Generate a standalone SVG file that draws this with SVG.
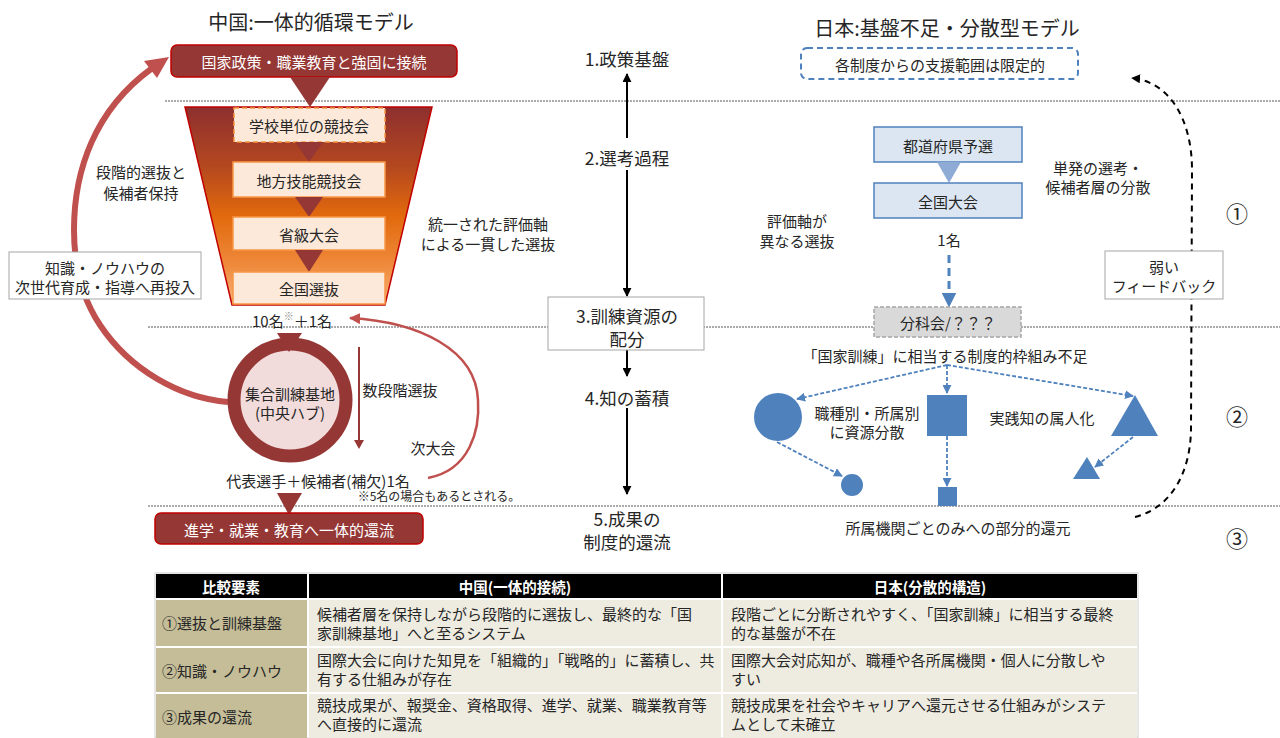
<svg xmlns="http://www.w3.org/2000/svg" width="1280" height="738" viewBox="0 0 1280 738">
<style>
text{font-family:'Noto Sans CJK JP','Noto Sans',sans-serif;fill:#262626;}
.t15{font-size:15px;}
.t14{font-size:14.5px;}
.tb{font-size:15px;}
.t12{font-size:12px;}
.t17{font-size:17.5px;}
.num{font-size:22px;}
.title{font-size:20px;}
.c{text-anchor:middle;dominant-baseline:central;}
.l{text-anchor:start;dominant-baseline:central;}
.w{fill:#ffffff;}
.dot{stroke:#595959;stroke-width:1.2;stroke-dasharray:2 1;fill:none;}
.redbox{fill:#953735;stroke:#c00000;stroke-width:1.5;}
.stage{fill:#fde9d9;stroke:#f79646;stroke-width:1.5;}
.dtri{fill:#953735;}
.blk{stroke:#000;stroke-width:2;fill:none;marker-end:url(#ahb);}
.bl{stroke:#4f81bd;stroke-width:1.8;stroke-dasharray:4 2;fill:none;marker-end:url(#ahu);}
.shape{fill:#4f81bd;}
.jbox{fill:#dce6f2;stroke:#4f81bd;stroke-width:1.5;}
.plain{fill:#fff;stroke:#a6a6a6;stroke-width:1;}
.c1{fill:#c4bd97;}
.c2{fill:#eeece1;}
</style>
<defs>
<linearGradient id="funnel" x1="0" y1="0" x2="0" y2="1">
<stop offset="0" stop-color="#8e2f2f"/>
<stop offset="0.3" stop-color="#b4481f"/>
<stop offset="0.55" stop-color="#e2690d"/>
<stop offset="0.8" stop-color="#ef8a3c"/>
<stop offset="1" stop-color="#f6b27a"/>
</linearGradient>
<marker id="ahb" viewBox="0 0 10 10" refX="9" refY="5" markerWidth="4.5" markerHeight="4.5" orient="auto"><path d="M0,0 L10,5 L0,10 z" fill="#000"/></marker>
<marker id="ahu" viewBox="0 0 10 10" refX="9" refY="5" markerWidth="5" markerHeight="5" orient="auto"><path d="M0,0 L10,5 L0,10 z" fill="#4f81bd"/></marker>
<marker id="ahr" viewBox="0 0 10 10" refX="9" refY="5" markerWidth="4.5" markerHeight="4.5" orient="auto"><path d="M0,0 L10,5 L0,10 z" fill="#c0504d"/></marker>
</defs>

<!-- dotted separators -->
<g id="separators">
<line class="dot" x1="165" y1="101" x2="1280" y2="101"/>
<line class="dot" x1="148" y1="327" x2="1280" y2="327"/>
<line class="dot" x1="148" y1="506" x2="1280" y2="506"/>
</g>

<!-- connectors -->
<g id="connectors">
<path d="M228,402 C180,398 130,370 100,325 C82,298 74,265 74,230 C74,170 95,110 151,69" fill="none" stroke="#c0504d" stroke-width="6"/>
<polygon points="169,57 157,78 144,61" fill="#c0504d"/>
<path d="M428,478 C470,470 480,430 478,400 C476,350 420,322 350,318" fill="none" stroke="#c0504d" stroke-width="2.5" marker-end="url(#ahr)"/>
<line x1="359" y1="347" x2="359" y2="443" stroke="#953735" stroke-width="2"/>
<polygon points="354,440 364,440 359,449" fill="#953735"/>
<line class="blk" x1="627" y1="138" x2="627" y2="74"/>
<line class="blk" x1="627" y1="170" x2="627" y2="296"/>
<line class="blk" x1="627" y1="350" x2="627" y2="376"/>
<line class="blk" x1="627" y1="408" x2="627" y2="494"/>
<line x1="949" y1="255" x2="949" y2="306" stroke="#4f81bd" stroke-width="3" stroke-dasharray="8 5" marker-end="url(#ahu)"/>
<path class="bl" d="M947,365 L797,399"/>
<path class="bl" d="M947,365 L947,393"/>
<path class="bl" d="M947,365 L1133,396"/>
<path class="bl" d="M777,442 L842,476"/>
<path class="bl" d="M947,436 L947,486"/>
<path class="bl" d="M1133,437 L1095,467"/>
<path d="M1135,517 C1170,508 1190,475 1191,430 L1192,170 C1192,120 1170,82 1132,78" fill="none" stroke="#000" stroke-width="2" stroke-dasharray="6 5" marker-end="url(#ahb)"/>
</g>

<!-- China side -->
<text class="title c" x="311" y="21">中国:一体的循環モデル</text>
<g id="policy-cn">
<rect class="redbox" x="171" y="45" width="286" height="32" rx="6"/>
<text class="t15 c w" x="314" y="61" font-size="15.5">国家政策・職業教育と強固に接続</text>
<polygon class="dtri" points="290,77 330,77 310,107"/>
</g>
<g id="funnel-cn">
<polygon points="185,107 432,107 385,305 232,305" fill="url(#funnel)" stroke="#c00000" stroke-width="1.5"/>
</g>
<g id="stage1">
<rect class="stage" x="234" y="108" width="151" height="34" stroke-dasharray="5 3"/>
<text class="t15 c" x="309" y="125">学校単位の競技会</text>
</g>
<polygon class="dtri" points="295,142 323,142 309,162"/>
<g id="stage2">
<rect class="stage" x="233" y="162" width="152" height="35"/>
<text class="t15 c" x="309" y="180">地方技能競技会</text>
</g>
<polygon class="dtri" points="295,197 323,197 309,217"/>
<g id="stage3">
<rect class="stage" x="233" y="217" width="152" height="33"/>
<text class="t15 c" x="309" y="234">省級大会</text>
</g>
<polygon class="dtri" points="295,250 323,250 309,272"/>
<g id="stage4">
<rect class="stage" x="233" y="272" width="152" height="32"/>
<text class="t15 c" x="309" y="288">全国選抜</text>
</g>
<g id="label-select">
<text class="t15 c" x="141" y="171">段階的選抜と</text>
<text class="t15 c" x="141" y="192">候補者保持</text>
</g>
<g id="reinvest">
<rect class="plain" x="9" y="252" width="192" height="47" stroke="#bfbfbf"/>
<text class="t15 c" x="105" y="267">知識・ノウハウの</text>
<text class="t15 c" x="105" y="286">次世代育成・指導へ再投入</text>
</g>
<g id="label-unified">
<text class="t15 c" x="488" y="223">統一された評価軸</text>
<text class="t15 c" x="488" y="243">による一貫した選抜</text>
</g>
<text class="t15 c" x="292" y="320" font-size="16">10名<tspan font-size="10" fill="#8c8c8c" dy="-5">※</tspan><tspan dy="5">＋1名</tspan></text>
<g id="hub">
<circle cx="290" cy="400" r="56" fill="#f2dcdb" stroke="#953735" stroke-width="13"/>
<polygon class="dtri" points="277,333 302,333 289,352"/>
<text class="t15 c" x="290" y="393">集合訓練基地</text>
<text class="t15 c" x="290" y="412">(中央ハブ)</text>
</g>
<text class="t15 c" x="400" y="389">数段階選抜</text>
<text class="t15 c" x="433" y="447">次大会</text>
<text class="t15 c" x="318" y="480">代表選手＋候補者(補欠)1名</text>
<text class="t12 c" x="439" y="495">※5名の場合もあるとされる。</text>
<polygon class="dtri" points="277,493 302,493 289,515"/>
<g id="return-cn">
<rect class="redbox" x="155" y="513" width="268" height="31" rx="6"/>
<text class="t15 c w" x="289" y="529" font-size="15.5">進学・就業・教育へ一体的還流</text>
</g>

<!-- middle axis -->
<g id="axis1"><text class="t17 c" x="627" y="58">1.政策基盤</text></g>
<g id="axis2"><text class="t17 c" x="627" y="157">2.選考過程</text></g>
<g id="axis3">
<rect class="plain" x="548" y="297" width="156" height="53"/>
<text class="t17 c" x="627" y="315">3.訓練資源の</text>
<text class="t17 c" x="627" y="338">配分</text>
</g>
<g id="axis4"><text class="t17 c" x="627" y="397">4.知の蓄積</text></g>
<g id="axis5">
<text class="t17 c" x="627" y="518">5.成果の</text>
<text class="t17 c" x="627" y="541">制度的還流</text>
</g>

<!-- Japan side -->
<text class="title c" x="947" y="27">日本:基盤不足・分散型モデル</text>
<g id="policy-jp">
<rect x="801" y="48" width="277" height="31" rx="6" fill="#fff" stroke="#4f81bd" stroke-width="2" stroke-dasharray="6 4"/>
<text class="t15 c" x="940" y="64">各制度からの支援範囲は限定的</text>
</g>
<g id="pref">
<rect class="jbox" x="874" y="127" width="148" height="35"/>
<text class="t15 c" x="948" y="145">都道府県予選</text>
</g>
<polygon points="937,162 961,162 949,183" fill="#8eabd6"/>
<g id="national-jp">
<rect class="jbox" x="874" y="183" width="148" height="35"/>
<text class="t15 c" x="948" y="201">全国大会</text>
</g>
<text class="t15 c" x="1098" y="167">単発の選考・</text>
<text class="t15 c" x="1098" y="186">候補者層の分散</text>
<text class="t15 c" x="797" y="220">評価軸が</text>
<text class="t15 c" x="797" y="240">異なる選抜</text>
<text class="t15 c" x="949" y="239" font-size="16">1名</text>
<text class="num c" x="1237" y="212">①</text>
<g id="feedback">
<rect class="plain" x="1105" y="251" width="118" height="48"/>
<text class="t15 c" x="1164" y="266">弱い</text>
<text class="t15 c" x="1164" y="285">フィードバック</text>
</g>
<g id="bunkakai">
<rect x="874" y="307" width="147" height="30" fill="#d9d9d9" stroke="#a6a6a6" stroke-width="1.5" stroke-dasharray="4 2"/>
<text class="t15 c" x="948" y="322" font-size="16">分科会/？？？</text>
</g>
<text class="t15 c" x="945" y="355">「国家訓練」に相当する制度的枠組み不足</text>
<g id="shapes-jp">
<circle class="shape" cx="778" cy="417" r="24"/>
<circle class="shape" cx="852" cy="485" r="11"/>
<rect class="shape" x="927" y="395" width="40" height="41"/>
<rect class="shape" x="938" y="487" width="19" height="19"/>
<polygon class="shape" points="1135,395 1158,436 1111,436"/>
<polygon class="shape" points="1087,457 1100,479 1073,479"/>
</g>
<text class="t15 c" x="867" y="412">職種別・所属別</text>
<text class="t15 c" x="867" y="431">に資源分散</text>
<text class="t15 c" x="1042" y="417">実践知の属人化</text>
<text class="num c" x="1237" y="415">②</text>
<text class="t15 c" x="958" y="527">所属機関ごとのみへの部分的還元</text>
<text class="num c" x="1237" y="537">③</text>

<!-- table -->
<g id="table">
<rect x="155" y="573" width="983" height="165" fill="#fff" stroke="#d0d0d0"/>
<rect x="156" y="574" width="151" height="24" fill="#000"/>
<rect x="309" y="574" width="412" height="24" fill="#000"/>
<rect x="723" y="574" width="414" height="24" fill="#000"/>
<text class="t14 c w" x="231" y="586" font-weight="bold">比較要素</text>
<text class="t14 c w" x="515" y="586" font-weight="bold">中国(一体的接続)</text>
<text class="t14 c w" x="930" y="586" font-weight="bold">日本(分散的構造)</text>
<rect class="c1" x="156" y="600" width="151" height="46"/>
<rect class="c2" x="309" y="600" width="412" height="46"/>
<rect class="c2" x="723" y="600" width="414" height="46"/>
<rect class="c1" x="156" y="648" width="151" height="44"/>
<rect class="c2" x="309" y="648" width="412" height="44"/>
<rect class="c2" x="723" y="648" width="414" height="44"/>
<rect class="c1" x="156" y="694" width="151" height="44"/>
<rect class="c2" x="309" y="694" width="412" height="44"/>
<rect class="c2" x="723" y="694" width="414" height="44"/>
<text class="tb l" x="162" y="622">①選抜と訓練基盤</text>
<text class="tb l" x="162" y="670">②知識・ノウハウ</text>
<text class="tb l" x="162" y="716">③成果の還流</text>
<text class="tb l" x="317" y="613">候補者層を保持しながら段階的に選抜し、最終的な「国</text>
<text class="tb l" x="317" y="632">家訓練基地」へと至るシステム</text>
<text class="tb l" x="317" y="659">国際大会に向けた知見を「組織的」「戦略的」に蓄積し、共</text>
<text class="tb l" x="317" y="678">有する仕組みが存在</text>
<text class="tb l" x="317" y="704">競技成果が、報奨金、資格取得、進学、就業、職業教育等</text>
<text class="tb l" x="317" y="723">へ直接的に還流</text>
<text class="tb l" x="731" y="613">段階ごとに分断されやすく、「国家訓練」に相当する最終</text>
<text class="tb l" x="731" y="632">的な基盤が不在</text>
<text class="tb l" x="731" y="659">国際大会対応知が、職種や各所属機関・個人に分散しや</text>
<text class="tb l" x="731" y="678">すい</text>
<text class="tb l" x="731" y="704">競技成果を社会やキャリアへ還元させる仕組みがシステ</text>
<text class="tb l" x="731" y="723">ムとして未確立</text>
</g>
</svg>
